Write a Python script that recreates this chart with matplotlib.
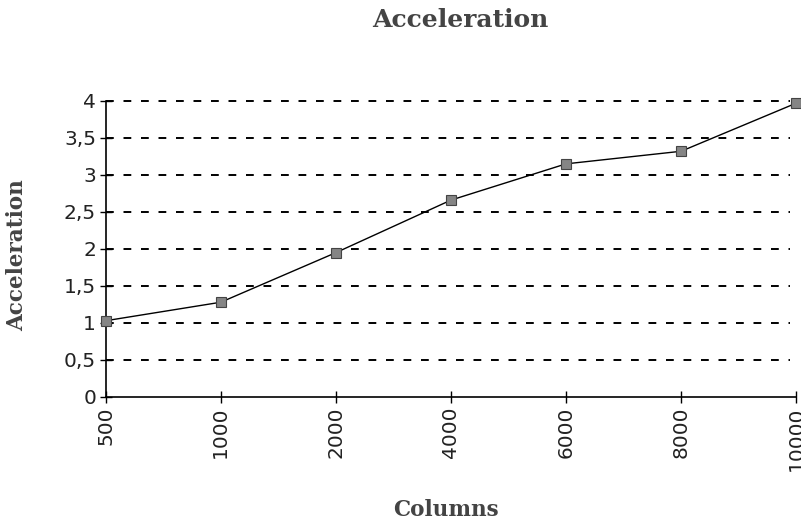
import numpy as np
import matplotlib.pyplot as plt

columns = ["500", "1000", "2000", "4000", "6000", "8000", "10000"]
acceleration = [1.03, 1.28, 1.95, 2.66, 3.15, 3.32, 3.97]
yticks = [0, 0.5, 1, 1.5, 2, 2.5, 3, 3.5, 4]
ytick_labels = ["0", "0,5", "1", "1,5", "2", "2,5", "3", "3,5", "4"]

fig = plt.figure(figsize=(8.01, 5.23), dpi=100)
ax = fig.add_axes([0.132, 0.241, 0.862, 0.566])

x = np.arange(len(columns))
# dashed horizontal grid (stops just short of the right end)
for yv in yticks[1:]:
    ax.plot([0, len(columns) - 1.05], [yv, yv], color="black", lw=1.4,
            dashes=(4, 5), zorder=1, clip_on=False)
ax.plot(x, acceleration, color="black", lw=1, zorder=2, clip_on=False)
ax.plot(x, acceleration, ls="none", marker="s", ms=7, mfc="#858585",
        mec="#444444", mew=0.8, zorder=3, clip_on=False)

ax.set_xlim(0, len(columns) - 1)
ax.set_ylim(0, 4)
ax.set_xticks(x)
ax.set_xticklabels(columns, rotation=90, fontsize=14.5, family="DejaVu Sans",
                   color="#222222")
ax.set_yticks(yticks)
ax.set_yticklabels(ytick_labels, fontsize=14.5, family="DejaVu Sans",
                   color="#222222")
ax.tick_params(direction="inout", length=8, width=1, pad=3)

for s in ["top", "right"]:
    ax.spines[s].set_visible(False)
ax.spines["left"].set_linewidth(1.2)
ax.spines["bottom"].set_linewidth(1.2)

fig.text(0.575, 0.962, "Acceleration", ha="center", va="center",
         fontsize=18, fontweight="bold", family="DejaVu Serif", color="#444444")
fig.text(0.557, 0.025, "Columns", ha="center", va="center",
         fontsize=15.5, fontweight="bold", family="DejaVu Serif", color="#444444")
fig.text(0.022, 0.512, "Acceleration", ha="center", va="center", rotation=90,
         fontsize=15.5, fontweight="bold", family="DejaVu Serif", color="#444444")

fig.savefig("out.png", dpi=100)
